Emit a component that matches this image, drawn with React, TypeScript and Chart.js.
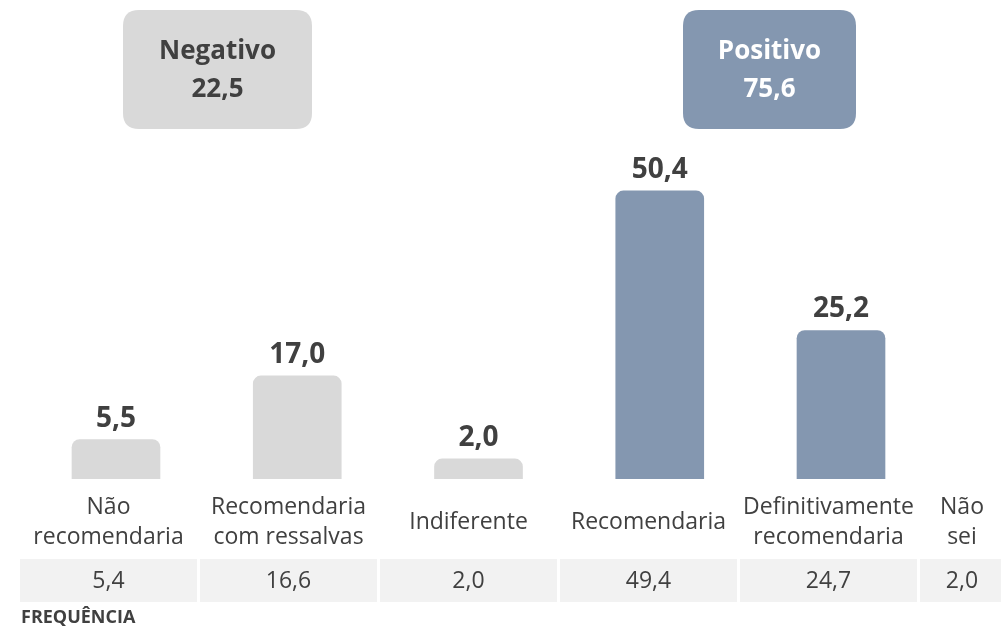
import React, { useEffect, useRef } from "react";
import { Chart, registerables } from "chart.js";

Chart.register(...registerables);

const categories: string[][] = [
  ["Não", "recomendaria"],
  ["Recomendaria", "com ressalvas"],
  ["Indiferente"],
  ["Recomendaria"],
  ["Definitivamente", "recomendaria"],
  ["Não", "sei"],
];
const values: (number | null)[] = [5.5, 17.0, 2.0, 50.4, 25.2, null];
const frequencies: string[] = ["5,4", "16,6", "2,0", "49,4", "24,7", "2,0"];
const barColors: string[] = ["#d9d9d9", "#d9d9d9", "#d9d9d9", "#8497b0", "#8497b0", "#8497b0"];
const groupLabels: string[] = ["Negativo", "Positivo"];
const groupTotals: number[] = [22.5, 75.6];
const tableTitle = "FREQUÊNCIA";

const FONT = "'Open Sans', Lato, sans-serif";
const TEXT = "#404040";

const fmt = (v: number) => v.toFixed(1).replace(".", ",");

function roundRect(ctx: CanvasRenderingContext2D, x: number, y: number, w: number, h: number, r: number) {
  ctx.beginPath();
  ctx.moveTo(x + r, y);
  ctx.lineTo(x + w - r, y);
  ctx.quadraticCurveTo(x + w, y, x + w, y + r);
  ctx.lineTo(x + w, y + h - r);
  ctx.quadraticCurveTo(x + w, y + h, x + w - r, y + h);
  ctx.lineTo(x + r, y + h);
  ctx.quadraticCurveTo(x, y + h, x, y + h - r);
  ctx.lineTo(x, y + r);
  ctx.quadraticCurveTo(x, y, x + r, y);
  ctx.closePath();
}

const decorPlugin = {
  id: "decor",
  afterDatasetsDraw(chart: any) {
    const ctx: CanvasRenderingContext2D = chart.ctx;
    const meta = chart.getDatasetMeta(0);
    const xt = chart.scales.xt;
    const W = chart.width;
    ctx.save();

    // value labels above bars
    ctx.fillStyle = TEXT;
    ctx.font = `bold 28px ${FONT}`;
    ctx.textAlign = "center";
    ctx.textBaseline = "alphabetic";
    values.forEach((v, i) => {
      if (v == null) return;
      const el = meta.data[i];
      ctx.fillText(fmt(v), el.x, el.y - 13);
    });

    // group boxes
    const boxes = [
      { l: 123, r: 312, fill: "#d9d9d9", color: TEXT },
      { l: 683, r: 856, fill: "#8497b0", color: "#ffffff" },
    ];
    boxes.forEach((b, i) => {
      ctx.fillStyle = b.fill;
      roundRect(ctx, b.l, 10, b.r - b.l, 119, 16);
      ctx.fill();
      ctx.fillStyle = b.color;
      ctx.font = `bold 26px ${FONT}`;
      ctx.textAlign = "center";
      ctx.textBaseline = "middle";
      const cx = (b.l + b.r) / 2;
      ctx.fillText(groupLabels[i], cx, 52);
      ctx.fillText(fmt(groupTotals[i]), cx, 90);
    });

    // category labels and table cells
    const n = categories.length;
    for (let i = 0; i < n; i++) {
      const left = xt.getPixelForValue(i - 0.5) + 1.5;
      const right = i === n - 1 ? W + 3 : xt.getPixelForValue(i + 0.5) - 1.5;
      const cx = (left + right) / 2;
      ctx.fillStyle = "#f2f2f2";
      ctx.fillRect(left, 559, right - left, 43);
      ctx.fillStyle = TEXT;
      ctx.font = `23px ${FONT}`;
      ctx.textAlign = "center";
      ctx.textBaseline = "middle";
      ctx.fillText(frequencies[i], cx, 581);
      const lines = categories[i];
      if (lines.length === 1) {
        ctx.fillText(lines[0], cx, 522);
      } else {
        ctx.fillText(lines[0], cx, 507);
        ctx.fillText(lines[1], cx, 537);
      }
    }

    ctx.fillStyle = TEXT;
    ctx.font = `bold 18px ${FONT}`;
    ctx.textAlign = "left";
    ctx.textBaseline = "middle";
    ctx.fillText(tableTitle, 21, 618);

    ctx.restore();
  },
};

export default function App() {
  const ref = useRef<HTMLCanvasElement>(null);
  useEffect(() => {
    document.body.style.margin = "0";
    const canvas = ref.current!;
    const chart = new Chart(canvas, {
      type: "bar",
      data: {
        datasets: [
          {
            data: values.map((v, i) => ({ x: i, y: v })) as any,
            backgroundColor: barColors,
            barThickness: 88,
            base: -1.625,
            borderRadius: { topLeft: 8, topRight: 8, bottomLeft: 0, bottomRight: 0 },
            borderSkipped: false,
            xAxisID: "x",
          } as any,
        ],
      },
      options: {
        responsive: false,
        animation: false,
        layout: { padding: { left: 0, right: 0, top: 0, bottom: 147 } },
        plugins: { legend: { display: false }, tooltip: { enabled: false } },
        scales: {
          x: {
            type: "linear",
            display: false,
            offset: false,
            bounds: "data",
            grace: 0,
            min: -0.64,
            max: -0.64 + 1001 / 181.25,
          } as any,
          xt: {
            type: "linear",
            display: false,
            offset: false,
            grace: 0,
            min: -108.5 / 180,
            max: -108.5 / 180 + 1001 / 180,
          } as any,
          y: {
            display: false,
            min: -1.625,
            max: -1.625 + 479 / 5.537,
          },
        },
      },
      plugins: [decorPlugin],
    });
    return () => chart.destroy();
  }, []);
  return (
    <div style={{ width: 1001, height: 626, overflow: "hidden", background: "#fff" }}>
      <canvas ref={ref} width={1001} height={626} style={{ display: "block" }} />
    </div>
  );
}
